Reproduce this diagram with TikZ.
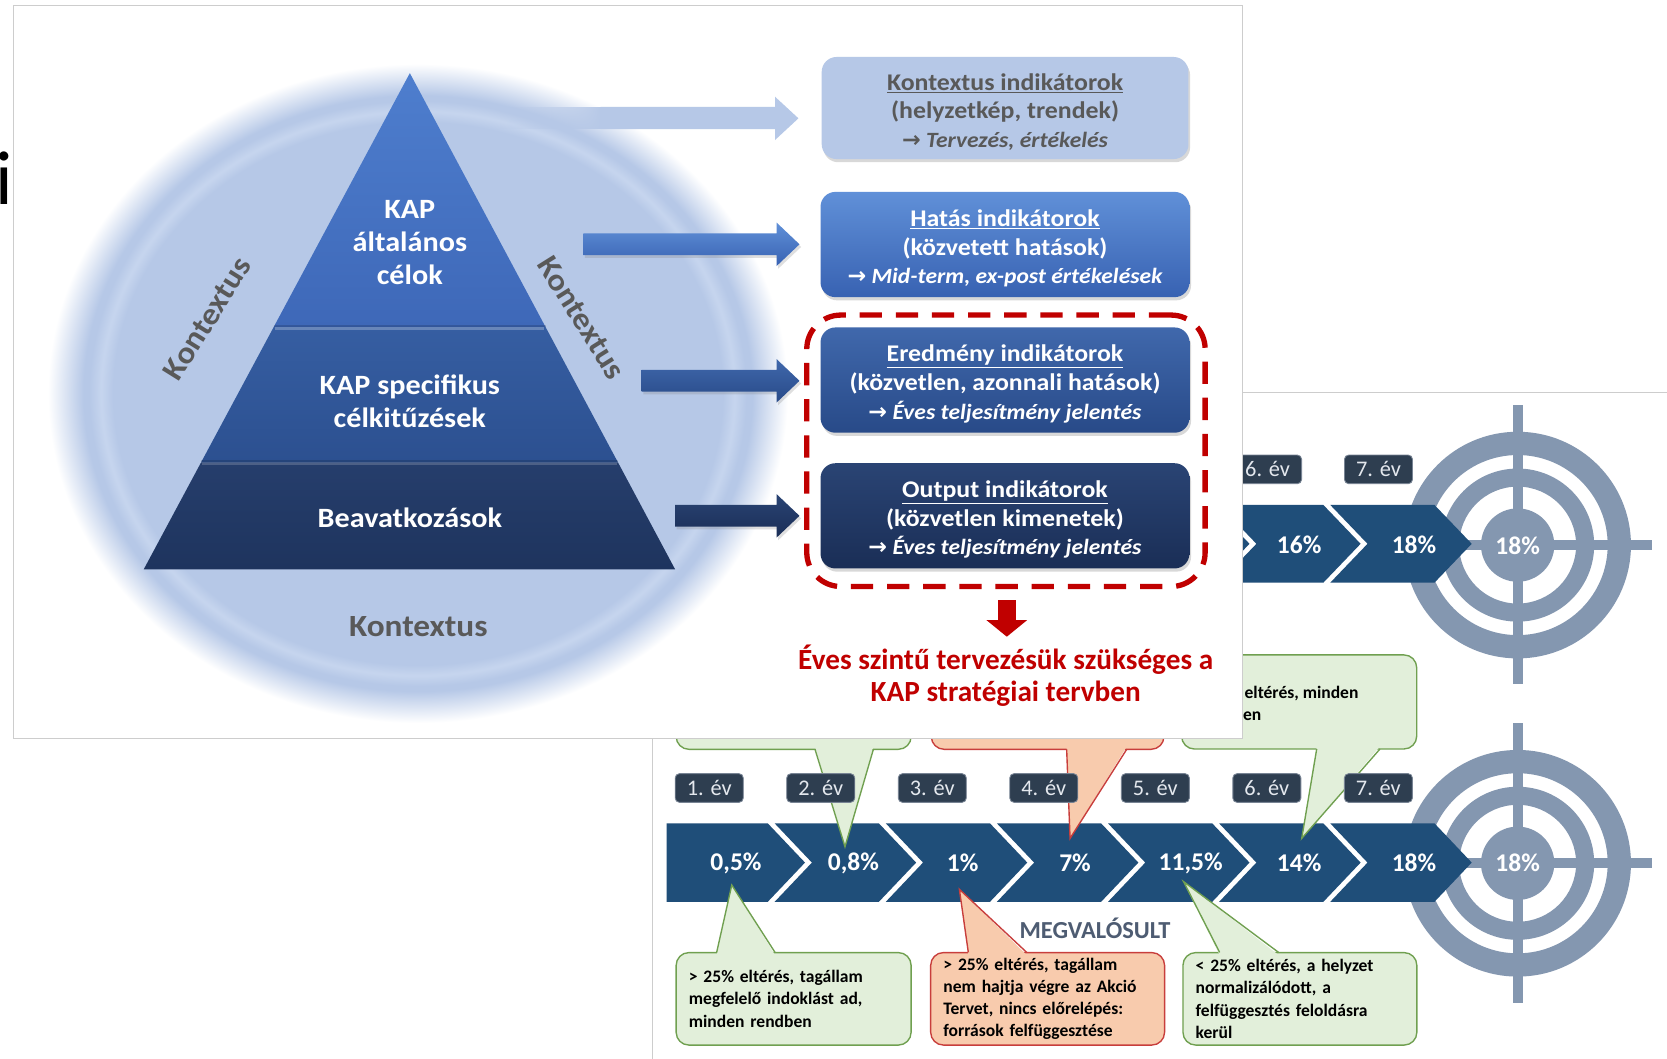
\documentclass[tikz,border=0pt]{standalone}
\usepackage{fontspec}
\setmainfont{Carlito}
\newfontfamily\widefont[FakeStretch=1.08]{Carlito}
\newfontfamily\symfont{DejaVu Sans}
\usetikzlibrary{shadows,fadings,arrows.meta}

\definecolor{ctx}{RGB}{182,200,231}
\definecolor{ctxl}{RGB}{198,213,238}
\definecolor{hatasT}{RGB}{96,144,216}
\definecolor{hatasB}{RGB}{56,98,178}
\definecolor{eredT}{RGB}{64,104,172}
\definecolor{eredB}{RGB}{40,74,136}
\definecolor{outT}{RGB}{42,68,116}
\definecolor{outB}{RGB}{26,46,86}
\definecolor{pyr1T}{RGB}{78,126,206}
\definecolor{pyr1B}{RGB}{62,104,184}
\definecolor{pyr2T}{RGB}{54,94,162}
\definecolor{pyr2B}{RGB}{44,80,144}
\definecolor{pyr3T}{RGB}{38,62,108}
\definecolor{pyr3B}{RGB}{30,52,94}
\definecolor{txtgray}{RGB}{89,89,89}
\definecolor{dred}{RGB}{192,0,0}
\definecolor{chev}{RGB}{31,78,121}
\definecolor{yearbox}{RGB}{46,62,80}
\definecolor{yearedge}{RGB}{120,132,148}
\definecolor{yrtext}{RGB}{228,232,238}
\definecolor{tgt}{RGB}{132,151,176}
\definecolor{gfill}{RGB}{226,239,218}
\definecolor{gline}{RGB}{112,160,80}
\definecolor{ofill}{RGB}{248,203,173}
\definecolor{oline}{RGB}{200,62,60}
\definecolor{megv}{RGB}{78,92,114}
\definecolor{panelgray}{RGB}{205,205,205}

\pgfdeclareradialshading{ctxshade}{\pgfpoint{0bp}{0bp}}{color(0bp)=(ctx); color(20.6bp)=(ctx); color(21.4bp)=(ctxl); color(22.2bp)=(ctx); color(22.6bp)=(ctx); color(25bp)=(white); color(50bp)=(white)}
\tikzfading[name=fadeleft, left color=transparent!100, right color=transparent!0]

\newcommand\rarr{{\symfont\bfseries\upshape\fontsize{21}{27}\selectfont →}}
\newcommand\itl{\itshape\fontsize{20.5}{27}\selectfont}

% chevron: #1 index, #2 top y, #3 bottom y
\newcommand\mychev[3]{%
  \pgfmathsetmacro\Tt{757.2+104.52*#1}%
  \pgfmathsetmacro\Cc{\Tt-35}%
  \pgfmathsetmacro\Mm{(#2+#3)/2}%
  \ifnum#1=0
    \fill[chev] (627,#2) -- (\Cc,#2) -- (\Tt,\Mm) -- (\Cc,#3) -- (627,#3) -- cycle;
  \else
    \pgfmathsetmacro\Ll{\Tt-104.52-35+6.5}%
    \pgfmathsetmacro\Nn{\Tt-104.52+6.5}%
    \fill[chev] (\Ll,#2) -- (\Cc,#2) -- (\Tt,\Mm) -- (\Cc,#3) -- (\Ll,#3) -- (\Nn,\Mm) -- cycle;
  \fi}

% callout tail: fill, line, x1, x2, ybase, xtip, ytip, dir
\newcommand\mytail[8]{%
  \fill[#1] (#3,#5+#8*2.5) -- (#4,#5+#8*2.5) -- (#6,#7) -- cycle;
  \draw[#2, line width=1.3pt, line join=miter] (#3,#5) -- (#6,#7) -- (#4,#5);}

% block arrow: x start, y center, top colour, bottom colour
\newcommand\blockarrow[4]{%
  \shade[top color=#3, bottom color=#4, drop shadow={opacity=0.25, shadow xshift=1.5pt, shadow yshift=-2.5pt}]
    (#1,#2-10.2) -- (730.5,#2-10.2) -- (730.5,#2-20.4) -- (752,#2) -- (730.5,#2+20.4) -- (730.5,#2+10.2) -- (#1,#2+10.2) -- cycle;}

\tikzset{
  pct/.style={text=white, font=\bfseries\fontsize{24}{24}\selectfont, inner sep=0pt},
  tpct/.style={text=white, font=\bfseries\fontsize{24}{24}\selectfont, inner sep=0pt},
  yrbox/.style={fill=yearbox, draw=yearedge, line width=0.8pt, rounded corners=4pt,
    minimum width=64pt, minimum height=27pt, inner sep=0pt, text=yrtext,
    font=\fontsize{21}{21}\selectfont},
  gbox/.style={draw=gline, fill=gfill, line width=1.3pt, rounded corners=12pt, inner sep=0pt},
  obox/.style={draw=oline, fill=ofill, line width=1.3pt, rounded corners=12pt, inner sep=0pt},
  ctext/.style={font=\bfseries\fontsize{16.5}{21}\selectfont, align=left,
    inner xsep=12pt, inner ysep=0pt, minimum height=87pt},
  frag/.style={font=\bfseries\fontsize{16.5}{21}\selectfont, inner sep=0pt, anchor=base west},
  ibox/.style={rounded corners=14pt, minimum width=347pt, inner sep=0pt,
    drop shadow={opacity=0.3, shadow xshift=1.5pt, shadow yshift=-3pt}},
  itext/.style={align=center, inner sep=0pt, font=\widefont\bfseries\fontsize{22.5}{27}\selectfont},
  pyrtext/.style={text=white, align=center, font=\widefont\bfseries\fontsize{26.3}{31}\selectfont},
  ctxlabel/.style={text=txtgray, font=\widefont\bfseries\fontsize{29}{29}\selectfont},
}

\begin{document}
\begin{tikzpicture}[x=1pt,y=-1pt]
\clip (0,0) rectangle (1568,996);
\fill[white] (0,0) rectangle (1568,996);

% cut letter at left edge
\node (ichar) [font=\fontsize{72}{72}\selectfont, anchor=base, inner sep=0pt] at (3.8,192) {i};

% ===== back panel =====
\draw[panelgray, line width=1.2pt, fill=white] (614,369) rectangle (1600,1020);

% targets
\foreach \cy in {512.7,812}{
  \fill[tgt, even odd rule] (1427.5,\cy) circle (106.6) circle (84.7);
  \fill[tgt, even odd rule] (1427.5,\cy) circle (72) circle (55);
  \fill[tgt] (1427.5,\cy) circle (34.5);
  \fill[tgt] (1422.8,\cy-131.5) rectangle (1432.2,\cy+131);
  \fill[tgt] (1301,\cy-4.7) rectangle (1553.6,\cy+4.7);
}

% chevrons
\foreach \k in {4,5,6}{ \mychev{\k}{475}{548} }
\foreach \k in {0,...,6}{ \mychev{\k}{774.5}{848.2} }

\node (tp6) [pct] at (1222,512) {16\%};
\node (tp7) [pct] at (1330,512) {18\%};
\node (tt1) [tpct] at (1427.5,513) {18\%};
\node (p1) [pct] at (692.3,812) {0,5\%};
\node (p2) [pct] at (802.7,812) {0,8\%};
\node (p3) [pct] at (905.5,812) {1\%};
\node (p4) [pct] at (1011.2,812) {7\%};
\node (p5) [pct] at (1120,812) {11,5\%};
\node (p6) [pct] at (1222,812) {14\%};
\node (p7) [pct] at (1330,812) {18\%};
\node (tt2) [tpct] at (1427.5,812) {18\%};

% upper callouts (mostly hidden)
\node (ug1) [gbox, minimum width=221pt, minimum height=104.8pt] at (746.5,652.4) {};
\node (uo) [obox, minimum width=218.8pt, minimum height=104.8pt] at (985.4,652.4) {};
\node (ug3) [gbox, minimum width=221.1pt, minimum height=88.5pt] at (1222,660.25) {};
\node (ug3a) [frag] at (1170.5,656.9) {eltérés, minden};
\node (ug3b) [frag] at (1169,677.3) {en};
\mytail{gfill}{gline}{766.6}{821.5}{704.8}{794.8}{796.4}{-1}
\mytail{ofill}{oline}{1003.3}{1059.8}{704.8}{1006.5}{788.6}{-1}
\mytail{gfill}{gline}{1238.5}{1298}{704.5}{1224.4}{788.6}{-1}

% lower callouts
\node (g1) [gbox, ctext, text width=197pt, minimum width=221pt] at (746.5,939.5)
  {> 25\% eltérés, tagállam\\megfelelő indoklást ad,\\minden rendben};
\node (o1) [obox, ctext, text width=196pt, minimum width=218.8pt] at (985.4,939.5)
  {> 25\% eltérés, tagállam\\nem hajtja végre az Akció\\Tervet, nincs előrelépés:\\források felfüggesztése};
\node (g3) [gbox, ctext, text width=196pt, minimum width=218.7pt] at (1222.7,939.5)
  {< 25\% eltérés, a helyzet\\normalizálódott, a\\felfüggesztés feloldásra\\kerül};
\mytail{gfill}{gline}{674.1}{729}{895.8}{688.3}{832.5}{1}
\mytail{ofill}{oline}{910.8}{965.7}{895.8}{902.4}{836.5}{1}
\mytail{gfill}{gline}{1147.2}{1202.6}{895.8}{1113.3}{829.3}{1}

% year labels
\node (ty6) [yrbox] at (1192.3,441.5) {6. év};
\node (ty7) [yrbox] at (1296.6,441.5) {7. év};
\node (y1) [yrbox] at (667.1,741.2) {1. év};
\node (y2) [yrbox] at (772.0,741.2) {2. év};
\node (y3) [yrbox] at (876.9,741.2) {3. év};
\node (y4) [yrbox] at (981.8,741.2) {4. év};
\node (y5) [yrbox] at (1086.7,741.2) {5. év};
\node (y6) [yrbox] at (1191.6,741.2) {6. év};
\node (y7) [yrbox] at (1296.5,741.2) {7. év};

\node (megv) [text=megv, font=\bfseries\fontsize{23}{23}\selectfont] at (1030,873) {MEGVALÓSULT};

% ===== front panel =====
\draw[panelgray, line width=1.2pt, fill=white] (13,5) rectangle (1168.6,694.5);

\shade[shading=ctxshade] (393,370) ellipse [x radius=348, y radius=310];

% light context arrow
\fill[ctx, path fading=fadeleft] (470,100.6) rectangle (566,121.4);
\fill[ctx] (565,100.6) -- (729,100.6) -- (729,91) -- (751,111.3) -- (729,131.7) -- (729,121.4) -- (565,121.4) -- cycle;

% pyramid
\shade[top color=pyr1T, bottom color=pyr1B] (385.5,68.8) -- (513.1,307.5) -- (257.5,307.5) -- cycle;
\shade[top color=pyr2T, bottom color=pyr2B] (257.5,307.5) -- (513.1,307.5) -- (581.2,434.8) -- (189.2,434.8) -- cycle;
\shade[top color=pyr3T, bottom color=pyr3B] (189.2,434.8) -- (581.2,434.8) -- (635,535.5) -- (135.2,535.5) -- cycle;
\draw[white, opacity=0.25, line width=2pt] (258.5,309) -- (512.1,309);
\draw[white, opacity=0.18, line width=2pt] (190.2,436.3) -- (580.2,436.3);
\draw[black, opacity=0.15, line width=1.5pt] (257.5,306.5) -- (513.1,306.5);
\draw[black, opacity=0.15, line width=1.5pt] (189.2,433.8) -- (581.2,433.8);

\node (pt1) [pyrtext] at (385.5,228) {KAP\\általános\\célok};
\node (pt2) [pyrtext] at (385.5,377) {KAP specifikus\\célkitűzések};
\node (pt3) [pyrtext] at (385.5,487) {Beavatkozások};

\node (k1) [ctxlabel, rotate=58] at (195,300) {Kontextus};
\node (k2) [ctxlabel, rotate=-58] at (547,299) {Kontextus};
\node (k3) [ctxlabel] at (393.5,589.2) {Kontextus};

% block arrows
\blockarrow{548.7}{229.8}{hatasT}{hatasB}
\blockarrow{603.6}{358.2}{eredT}{eredB}
\blockarrow{635}{485.2}{outT}{outB}

% indicator boxes
\node (b1) [ibox, fill=ctx, minimum width=345pt, minimum height=96pt] at (945.4,101.6) {};
\node (b2) [ibox, shade, top color=hatasT, bottom color=hatasB, minimum height=99pt] at (945.3,230) {};
\node (b3) [ibox, shade, top color=eredT, bottom color=eredB, minimum height=99pt] at (945.3,357.5) {};
\node (b4) [ibox, shade, top color=outT, bottom color=outB, minimum height=99pt] at (945.3,485.2) {};

\node (b1t) [itext, text=txtgray] at (945.4,105.3)
  {\underline{Kontextus indikátorok}\\(helyzetkép, trendek)\\{\itl\rarr\ Tervezés, értékelés}};
\node (b2t) [itext, text=white] at (945.3,233.6)
  {\underline{Hatás indikátorok}\\(közvetett hatások)\\{\itl\rarr\ Mid-term, ex-post értékelések}};
\node (b3t) [itext, text=white] at (945.3,361.1)
  {\underline{Eredmény indikátorok}\\(közvetlen, azonnali hatások)\\{\itl\rarr\ Éves teljesítmény jelentés}};
\node (b4t) [itext, text=white] at (945.3,488.8)
  {\underline{Output indikátorok}\\(közvetlen kimenetek)\\{\itl\rarr\ Éves teljesítmény jelentés}};

\node (dashbox) [draw=dred, line width=5pt, dash pattern=on 21pt off 13pt, rounded corners=32pt,
  minimum width=374.7pt, minimum height=255.3pt, inner sep=0pt] at (946.2,424) {};

\coordinate (ra1) at (947,564.4);
\coordinate (ra2) at (947,598.9);
\draw[dred, line width=17.2pt, -{Triangle[length=15.7pt, width=37.6pt]}] (ra1) -- (ra2);

\node (redtxt) [text=dred, align=center, font=\bfseries\fontsize{27.5}{30.5}\selectfont] at (946,635.5)
  {Éves szintű tervezésük szükséges a\\KAP stratégiai tervben};
\end{tikzpicture}
\end{document}
